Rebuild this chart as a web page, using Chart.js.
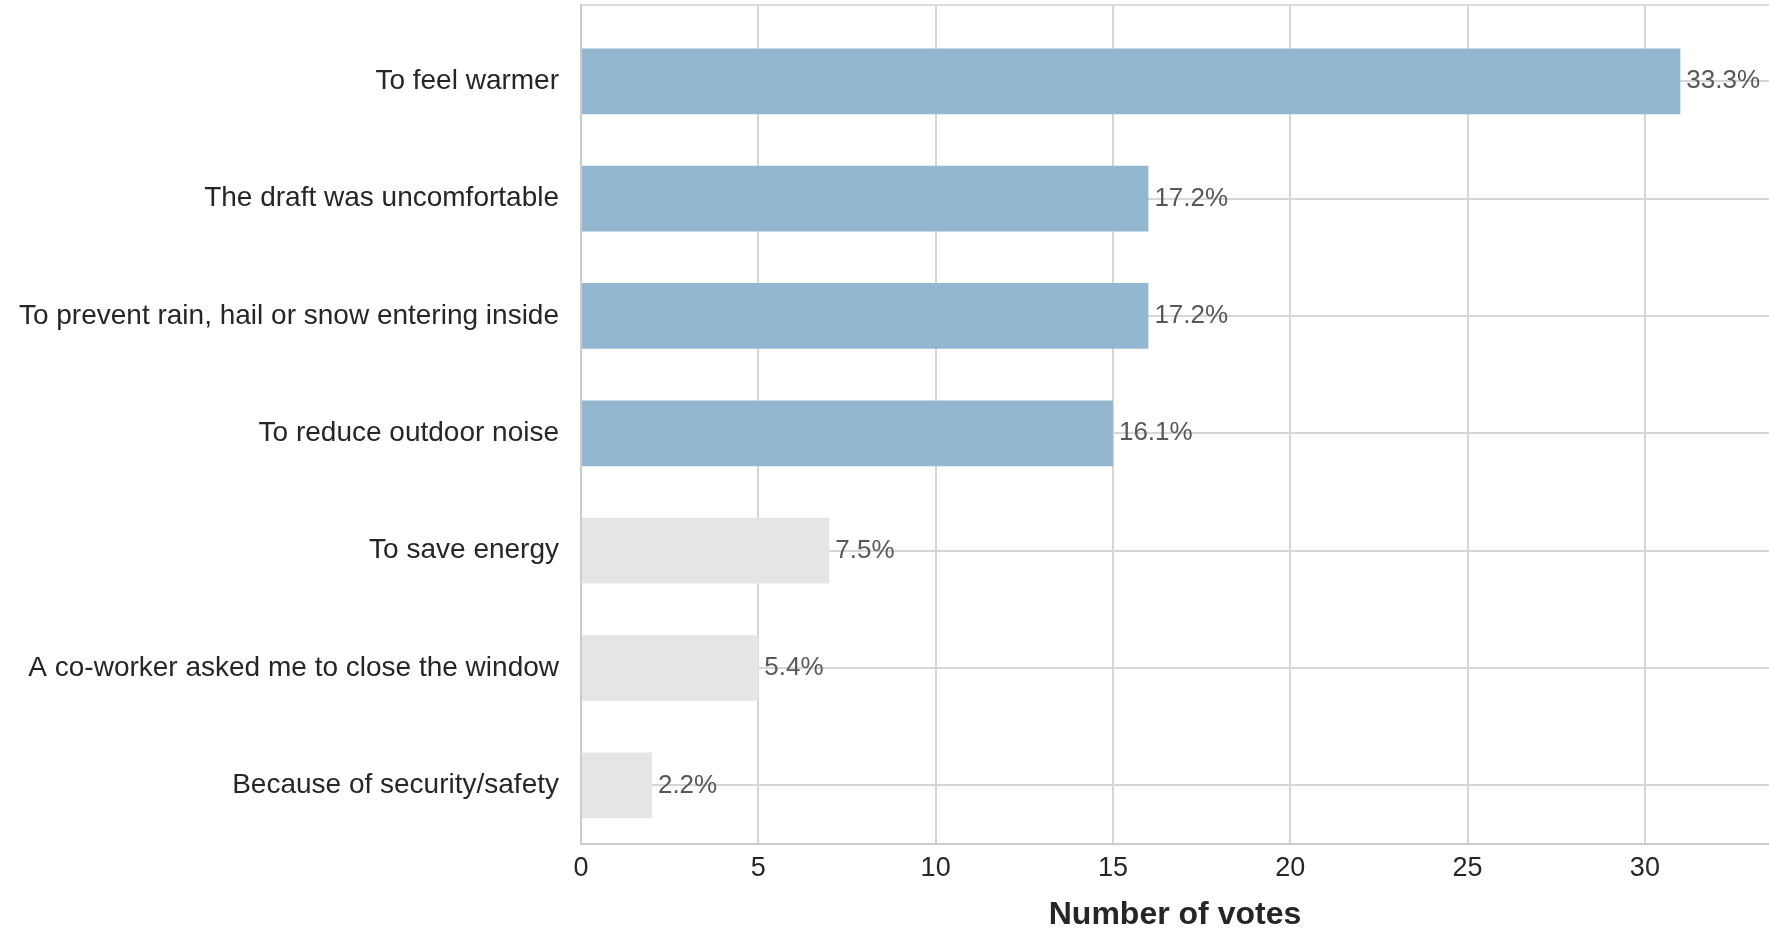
<!DOCTYPE html>
<html lang="en">

<head>
  <meta charset="UTF-8" />
  <title>Why did you close the window?</title>
  <script src="https://cdn.jsdelivr.net/npm/chart.js"></script>
  <style>
    html, body { margin: 0; padding: 0; background: #ffffff; }
    .chart-box { width: 1769px; height: 931px; position: relative; }
  </style>
</head>

<body>
  <div class="chart-box">
    <canvas id="votesChart"></canvas>
  </div>

  <script>
    // Reasons, top to bottom
    const reasons = [
      "To feel warmer",
      "The draft was uncomfortable",
      "To prevent rain, hail or snow entering inside",
      "To reduce outdoor noise",
      "To save energy",
      "A co-worker asked me to close the window",
      "Because of security/safety"
    ];
    const votes = [31, 16, 16, 15, 7, 5, 2];
    const shareLabels = ["33.3%", "17.2%", "17.2%", "16.1%", "7.5%", "5.4%", "2.2%"];
    const voteTicks = [0, 5, 10, 15, 20, 25, 30];

    // the first few reasons get the accent colour, the rest stay grey
    const topCount = 4;
    const accent = "#94b7d0";
    const muted = "#e5e5e5";
    const gridColor = "#d6d6d6";
    const fontFamily = "'Liberation Sans', Arial, sans-serif";

    // writes the share next to the end of each bar
    const shareLabelPlugin = {
      id: "shareLabels",
      afterDatasetsDraw(chart) {
        const ctx = chart.ctx;
        const meta = chart.getDatasetMeta(0);
        ctx.save();
        ctx.font = "26px " + fontFamily;
        ctx.fillStyle = "#585858";
        ctx.textAlign = "left";
        ctx.textBaseline = "middle";
        meta.data.forEach((bar, i) => {
          ctx.fillText(shareLabels[i], bar.x + 6, bar.y);
        });
        ctx.restore();
      }
    };

    const ctx = document.getElementById("votesChart").getContext("2d");
    new Chart(ctx, {
      type: "bar",
      data: {
        datasets: [{
          data: votes.map((v, i) => ({ x: v, y: i })),
          xAxisID: "x",
          yAxisID: "y",
          backgroundColor: votes.map((v, i) => (i < topCount ? accent : muted)),
          borderWidth: 0,
          categoryPercentage: 1,
          barPercentage: 0.56
        }]
      },
      options: {
        indexAxis: "y",
        responsive: true,
        maintainAspectRatio: false,
        animation: false,
        layout: { padding: { top: 5, right: 0, bottom: 0, left: 0 } },
        plugins: {
          legend: { display: false },
          tooltip: { enabled: false }
        },
        scales: {
          x: {
            type: "linear",
            position: "bottom",
            min: 0,
            max: 33.5,
            afterBuildTicks: (scale) => {
              scale.ticks = voteTicks.map(v => ({ value: v }));
            },
            afterFit: (scale) => { scale.height = 87; },
            grid: { color: gridColor, lineWidth: 2, drawTicks: false },
            border: { color: "#cccccc", width: 2 },
            ticks: {
              color: "#262626",
              padding: 8,
              font: { family: fontFamily, size: 27 }
            },
            title: {
              display: true,
              text: "Number of votes",
              color: "#262626",
              padding: 0,
              font: { family: fontFamily, size: 32, weight: "bold", lineHeight: 1 }
            }
          },
          xTop: {
            type: "linear",
            axis: "x",
            position: "top",
            min: 0,
            max: 33.5,
            afterFit: (scale) => { scale.height = 0; },
            grid: { display: false, drawTicks: false },
            border: { color: "#dddddd", width: 2 },
            ticks: { display: false }
          },
          y: {
            type: "linear",
            reverse: true,
            offset: false,
            min: -0.65,
            max: 6.5,
            afterBuildTicks: (scale) => {
              scale.ticks = reasons.map((r, i) => ({ value: i }));
            },
            afterFit: (scale) => {
              // labels sit well inside the plot, no extra room needed above or below
              scale.width = 581;
              scale.paddingTop = 0;
              scale.paddingBottom = 0;
            },
            grid: { color: gridColor, lineWidth: 2, drawTicks: false, offset: false },
            border: { color: "#cccccc", width: 2 },
            ticks: {
              color: "#262626",
              padding: 22,
              font: { family: fontFamily, size: 28 },
              callback: (value) => reasons[value] ?? ""
            }
          }
        }
      },
      plugins: [shareLabelPlugin]
    });
  </script>
</body>

</html>
